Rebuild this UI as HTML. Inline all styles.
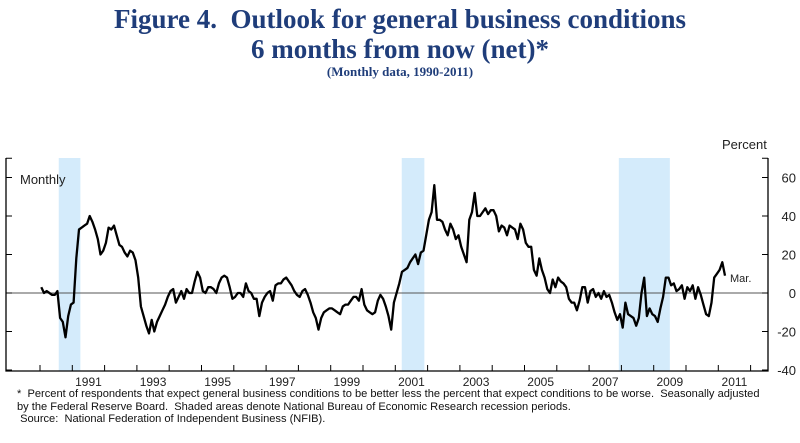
<!DOCTYPE html>
<html><head><meta charset="utf-8"><style>
body{margin:0;background:#fff;width:800px;height:443px;overflow:hidden;font-family:"Liberation Sans",sans-serif}
.t{position:absolute;left:0;width:800px;text-align:center;font-family:"Liberation Serif",serif;font-weight:bold;color:#1f3d7a}
.fn{position:absolute;left:17px;font-size:11.1px;color:#111;line-height:12.5px;white-space:nowrap}
</style></head><body>
<div class="t" style="top:4px;font-size:27px;line-height:30px">Figure 4.&nbsp; Outlook for general business conditions<br>6 months from now (net)*</div>
<div class="t" style="top:64px;font-size:13px">(Monthly data, 1990-2011)</div>
<svg width="800" height="443" style="position:absolute;left:0;top:0">
<g id="g"></g>
</svg>
<div class="fn" style="top:388px">*&nbsp; Percent of respondents that expect general business conditions to be better less the percent that expect conditions to be worse.&nbsp; Seasonally adjusted<br>by the Federal Reserve Board.&nbsp; Shaded areas denote National Bureau of Economic Research recession periods.<br>&nbsp;Source:&nbsp; National Federation of Independent Business (NFIB).</div>
<script>
const startYear=1990;
const values=[
3,0,1,0,-1,-1,1,-13,-15,-23,-12,-6,
-5,18,33,34,35,36,40,37,33,28,20,22,
26,34,33,35,30,25,24,21,19,22,21,17,
8,-7,-12,-17,-21,-14,-20,-15,-12,-9,-6,-2,
1,2,-5,-2,1,-3,2,0,0,6,11,8,
1,0,3,3,2,0,5,8,9,8,3,-3,
-2,0,0,-2,5,1,0,-3,-3,-12,-5,-2,
0,1,-4,4,5,5,7,8,6,4,1,-1,
-2,1,2,-1,-5,-10,-13,-19,-13,-10,-9,-8,
-8,-9,-10,-11,-7,-6,-6,-4,-2,-2,-4,2,
-6,-9,-10,-11,-10,-4,-1,-3,-7,-12,-19,-5,
0,5,11,12,13,16,18,20,15,21,22,30,
38,42,56,38,38,37,33,30,36,33,28,30,
24,20,16,38,42,52,40,40,42,44,41,43,
43,40,32,35,34,30,35,34,33,28,36,33,
26,24,24,12,9,18,12,8,2,0,7,3,
8,6,5,3,-3,-5,-5,-9,-4,3,3,-5,
1,2,-2,0,-3,1,-2,-1,-5,-10,-14,-11,
-18,-5,-11,-12,-13,-17,-13,0,8,-12,-8,-11,
-12,-15,-8,-2,8,8,4,5,1,2,4,-3,
3,1,4,-3,3,-1,-6,-11,-12,-5,8,10,
12,16,9];
const recessions=[[1990.58,1991.25],[2001.2,2001.9],[2007.92,2009.5]];
const yTicks=[-40,-20,0,20,40,60];
const xLabels=[1991,1993,1995,1997,1999,2001,2003,2005,2007,2009,2011];
const X=y=>40+(y-1990)*32.3;
const Y=v=>293-v*1.925;
const g=document.getElementById('g');const NS='http://www.w3.org/2000/svg';
function mk(t,a){const e=document.createElementNS(NS,t);for(const k in a)e.setAttribute(k,a[k]);g.appendChild(e);return e;}
recessions.forEach(r=>{const e=mk('rect',{x:X(r[0]),y:158,width:X(r[1])-X(r[0]),height:213,fill:'#d4ebfb'});

});
let a=mk('path',{d:'M6 158 V371 H768 V158',fill:'none',stroke:'#000','stroke-width':1.3});


let z=mk('line',{x1:6,x2:768,y1:Y(0),y2:Y(0),stroke:'#555','stroke-width':1});


[...yTicks,70].forEach(v=>{mk('line',{x1:6,x2:12,y1:Y(v),y2:Y(v),stroke:'#000'});mk('line',{x1:762,x2:768,y1:Y(v),y2:Y(v),stroke:'#000'});});
yTicks.forEach(v=>{const t=mk('text',{x:796,y:Y(v)+5,'text-anchor':'end','font-size':13,fill:'#222'});t.textContent=v;

});
for(let yr=1990;yr<=2012;yr++){mk('line',{x1:X(yr),x2:X(yr),y1:365,y2:371,stroke:'#000'});}
xLabels.forEach(yr=>{const t=mk('text',{x:X(yr+0.5),y:386,'text-anchor':'middle','font-size':12,fill:'#222'});t.textContent=yr;

});
const d=values.map((v,i)=>(i?'L':'M')+X(startYear+i/12+0.04).toFixed(1)+' '+Y(v).toFixed(1)).join(' ');
const p=mk('path',{d:d,fill:'none',stroke:'#000','stroke-width':2.3,'stroke-linejoin':'round'});


const lab=(s,x,y,n,sz)=>{const t=mk('text',{x:x,y:y,'font-size':sz,fill:'#222'});t.textContent=s;

};
lab('Percent',722,149,'y-axis-title',13);
lab('Monthly',20,184,'series-label',13);
lab('Mar.',730,282,'end-label',11);
</script>
</body></html>
